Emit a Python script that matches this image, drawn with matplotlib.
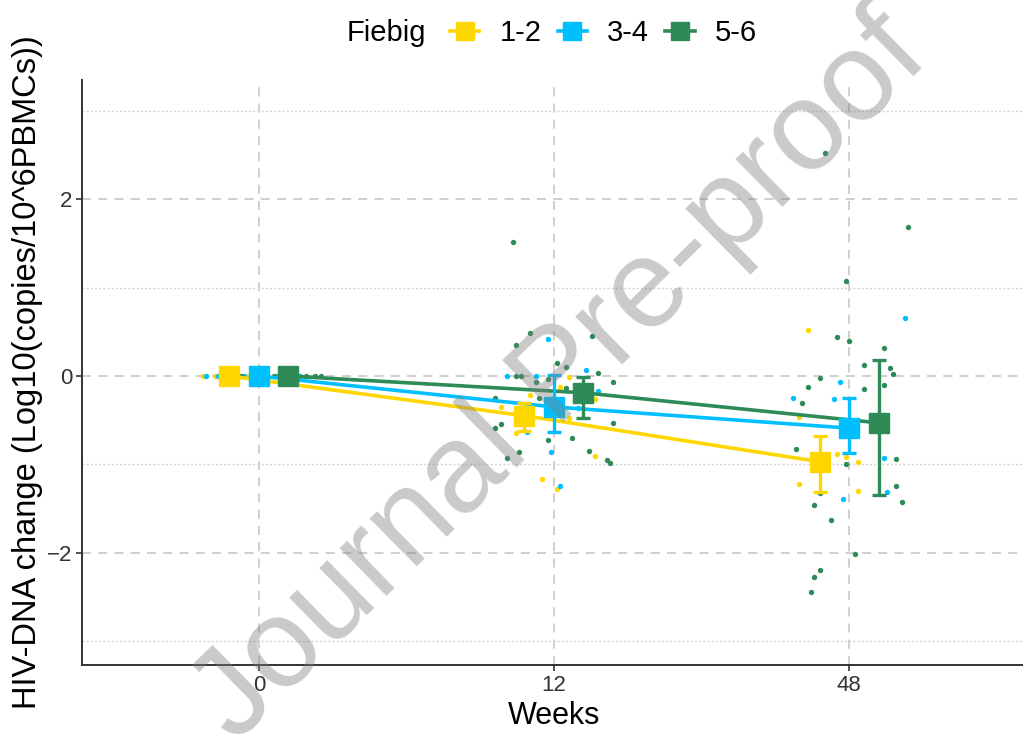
"""HIV-DNA change by Fiebig stage over weeks (dodged means, error bars, jittered points)."""

import matplotlib
matplotlib.use("Agg")
import matplotlib.pyplot as plt
from matplotlib.lines import Line2D
from matplotlib.ticker import MultipleLocator

plt.rcParams["font.family"] = ["Liberation Sans", "DejaVu Sans"]

weeks = ["0", "12", "48"]
groups = ["1-2", "3-4", "5-6"]
colors = {"1-2": "#FFD700", "3-4": "#00BFFF", "5-6": "#2E8B57"}
dodge = {"1-2": -0.1, "3-4": 0.0, "5-6": 0.1}

# group means and error bar limits per week
means = {
    "1-2": [0.0, -0.45, -0.97],
    "3-4": [0.0, -0.35, -0.59],
    "5-6": [0.0, -0.19, -0.53],
}
err_low = {
    "1-2": [0.0, -0.62, -1.31],
    "3-4": [0.0, -0.63, -0.87],
    "5-6": [0.0, -0.47, -1.35],
}
err_high = {
    "1-2": [0.0, -0.30, -0.68],
    "3-4": [0.0, 0.01, -0.25],
    "5-6": [0.0, -0.01, 0.18],
}

# individual values (week index, jitter offset, value)
pts_12_w = [0, 0, 0, 0, 0, 0, 0, 0, 1, 1, 1, 1, 1, 1, 1, 1, 1, 1, 2, 2, 2, 2, 2, 2, 2, 2]
pts_12_j = [-0.19, -0.15, -0.12, -0.08, -0.04, 0.0, 0.05, 0.08,
            -0.18, -0.08, 0.02, 0.05, -0.13, 0.05, 0.14, -0.04, 0.01, 0.14,
            -0.14, -0.17, 0.02, -0.04, 0.03, -0.01, -0.17, 0.03]
pts_12_v = [0.0, 0.0, 0.0, 0.0, 0.0, 0.0, 0.0, 0.0,
            -0.35, -0.21, -0.12, -0.01, -0.64, -0.47, -0.90, -1.17, -1.28, -0.26,
            0.52, -0.46, -0.62, -0.88, -0.97, -0.92, -1.22, -1.30]

pts_34_w = [0, 0, 0, 0, 0, 0, 0, 0, 1, 1, 1, 1, 1, 1, 1, 1, 1, 2, 2, 2, 2, 2, 2, 2]
pts_34_j = [-0.18, -0.14, -0.1, -0.05, 0.02, 0.06, 0.1, 0.14,
            -0.02, -0.16, -0.06, 0.11, 0.15, 0.08, -0.09, -0.01, 0.02,
            0.19, -0.03, -0.19, -0.05, 0.12, 0.13, -0.02]
pts_34_v = [0.0, 0.0, 0.0, 0.0, 0.0, 0.0, 0.0, 0.0,
            0.42, 0.0, 0.0, 0.07, -0.17, -0.36, -0.63, -0.86, -1.24,
            0.66, -0.07, -0.25, -0.26, -0.93, -1.31, -1.39]

pts_56_w = [0] * 8 + [1] * 25 + [2] * 26
pts_56_j = [-0.12, -0.06, 0.0, 0.05, 0.12, 0.16, 0.19, 0.21,
            -0.14, -0.08, -0.13, 0.13, -0.13, -0.11, -0.06, -0.02, 0.04, 0.15,
            0.2, -0.2, -0.2, -0.18, -0.05, -0.16, -0.12, -0.02, 0.06, 0.12,
            0.18, 0.19, 0.2, 0.01, 0.04,
            -0.08, 0.2, -0.01, -0.04, 0.0, 0.12, 0.05, 0.14, 0.15, -0.1,
            -0.14, 0.05, -0.16, 0.12, -0.18, -0.01, 0.16, 0.16, 0.18, -0.1,
            -0.12, -0.06, 0.02, -0.1, -0.12, -0.13]
pts_56_v = [0.0] * 8 + [
    1.52, 0.49, 0.35, 0.45, 0.0, 0.0, -0.07, -0.03, -0.14, 0.03,
    -0.07, -0.25, -0.59, -0.54, -0.25, -0.93, -0.86, -0.72, -0.70, -0.85,
    -0.95, -0.99, -0.53, 0.15, 0.10,
    2.52, 1.69, 1.08, 0.44, 0.40, 0.32, 0.12, 0.09, 0.02, -0.02,
    -0.13, -0.15, -0.31, -0.10, -0.83, -1.00, -0.94, -1.24, -1.43, -1.33,
    -1.46, -1.63, -2.02, -2.20, -2.27, -2.45]

points = {
    "1-2": (pts_12_w, pts_12_j, pts_12_v),
    "3-4": (pts_34_w, pts_34_j, pts_34_v),
    "5-6": (pts_56_w, pts_56_j, pts_56_v),
}

fig = plt.figure(figsize=(10.23, 7.42), dpi=100)
ax = fig.add_axes([0.080, 0.104, 0.923, 0.788])

xpos = [1, 2, 3]
for g in groups:
    c = colors[g]
    w, j, v = points[g]
    ax.scatter([xpos[i] + jj for i, jj in zip(w, j)], v, s=15, color=c,
               linewidths=0, zorder=2)
    gx = [x + dodge[g] for x in xpos]
    ax.plot(gx, means[g], color=c, lw=2.6, zorder=3)
    yerr = [[m - lo for m, lo in zip(means[g], err_low[g])],
            [hi - m for m, hi in zip(means[g], err_high[g])]]
    ax.errorbar(gx, means[g], yerr=yerr, fmt="none", ecolor=c, elinewidth=2.4,
                capsize=5, capthick=2.4, zorder=4)
    ax.plot(gx, means[g], "s", color=c, ms=15, zorder=5)

ax.set_xlim(0.4, 3.6)
ax.set_ylim(-3.27, 3.35)
ax.set_xticks(xpos)
ax.set_xticklabels(weeks)
ax.yaxis.set_major_locator(MultipleLocator(2))
ax.yaxis.set_minor_locator(MultipleLocator(1))
ax.grid(True, which="major", color="#cccccc", ls=(0, (5, 4)), lw=1.3)
ax.grid(True, which="minor", axis="y", color="#d4d4d4", ls=(0, (1.5, 1.5)), lw=1.0)
ax.tick_params(which="minor", length=0)
ax.tick_params(which="major", length=4, width=1.2, color="#333333",
               labelsize=16, labelcolor="#333333", pad=3)
for s in ["top", "right"]:
    ax.spines[s].set_visible(False)
for s in ["left", "bottom"]:
    ax.spines[s].set_color("#333333")
    ax.spines[s].set_linewidth(1.4)

ax.set_xlabel("Weeks", fontsize=22, labelpad=4)
ax.set_ylabel("HIV-DNA change (Log10(copies/10^6PBMCs))", fontsize=23.5, labelpad=3)

handles = [Line2D([], [], color=colors[g], marker="s", ms=13, lw=2.6) for g in groups]
fig.text(0.339, 0.955, "Fiebig", fontsize=21, ha="left", va="center")
fig.legend(handles, groups, loc="center left", bbox_to_anchor=(0.440, 0.955),
           ncol=3, frameon=False, fontsize=21, handlelength=1.0,
           handletextpad=0.7, columnspacing=0.55, borderpad=0, borderaxespad=0)

fig.text(0.548, 0.49, "Journal Pre-proof", fontsize=91, rotation=44.5,
         color="#808080", alpha=0.42, ha="center", va="center", zorder=10)

fig.savefig("out.png", dpi=100)
